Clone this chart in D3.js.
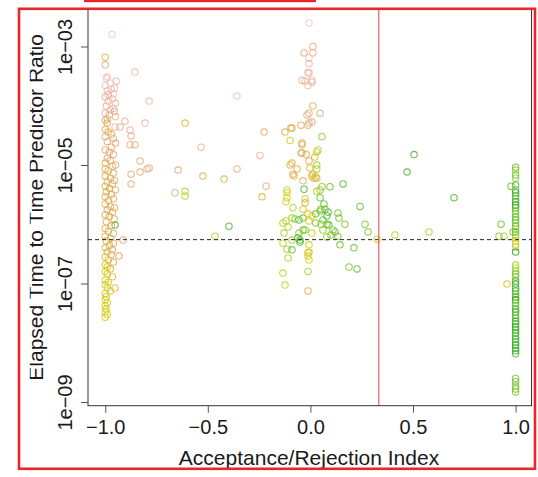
<!DOCTYPE html>
<html><head><meta charset="utf-8">
<script src="https://cdn.jsdelivr.net/npm/d3@7"></script>
<style>html,body{margin:0;padding:0;background:#fff}svg{display:block}text{font-family:"Liberation Sans",Arial,Helvetica,sans-serif;fill:#1a1a1a}</style>
</head><body><svg id="c" width="538" height="477"></svg>
<script>
// ---- data ----
const xTicks = [-1, -0.5, 0, 0.5, 1];
const xTickLabels = ["\u22121.0", "\u22120.5", "0.0", "0.5", "1.0"];
const yTicks = [1e-9, 1e-7, 1e-5, 1e-3];
const yTickLabels = ["1e\u221209", "1e\u221207", "1e\u221205", "1e\u221203"];
const xTitle = "Acceptance/Rejection Index";
const yTitle = "Elapsed Time to Time Predictor Ratio";
const refRatio = 5.5e-7;     // dashed horizontal line
const refIndex = 1 / 3;      // red vertical line
// [index, ratio, tone]
const rejectPoints = [
[-0.967,1.6e-3,0.0],[-1.0,6.6e-4,0.45],[-1.0,4.9e-4,0.3],[-0.855,3.7e-4,0.1],[-0.99,3.1e-4,0.05],
[-0.995,2.9e-4,0.05],[-0.947,2.6e-4,0.15],[-0.786,1.2e-4,0.1],[-1.0,2.2e-4,0.05],[-0.99,1.8e-4,0.1],
[-0.97,1.9e-4,0.1],[-0.96,1.6e-4,0.05],[-1.0,1.4e-4,0.2],[-0.985,1.2e-4,0.15],[-0.95,1.1e-4,0.1],
[-0.975,2.4e-4,0.05],[-0.955,2.0e-4,0.1],[-0.985,1.55e-4,0.15],[-0.965,1.3e-4,0.1],[-0.955,8.0e-5,0.2],[-0.99,6.0e-5,0.2],
[-0.995,9.9e-5,0.2],[-0.975,8.5e-5,0.15],[-0.96,9.0e-5,0.1],[-1.0,7.5e-5,0.25],[-0.98,7.0e-5,0.3],
[-0.95,6.5e-5,0.15],[-0.904,5.5e-5,0.2],[-0.806,5.1e-5,0.15],[-0.952,4.4e-5,0.2],[-0.928,4.4e-5,0.2],
[-0.879,3.9e-5,0.2],[-0.874,3.1e-5,0.3],[-1.0,5.7e-5,0.35],[-0.99,5.1e-5,0.45],[-1.0,4.0e-5,0.45],
[-0.985,3.6e-5,0.4],[-0.97,3.3e-5,0.3],[-1.0,3.0e-5,0.3],[-0.96,2.8e-5,0.25],[-0.99,2.5e-5,0.3],
[-0.879,2.2e-5,0.25],[-0.855,2.2e-5,0.3],[-0.95,2.35e-5,0.3],[-0.97,2.0e-5,0.35],[-1.0,1.8e-5,0.35],
[-0.98,1.66e-5,0.3],[-0.96,1.5e-5,0.3],[-0.83,1.17e-5,0.3],[-0.99,1.3e-5,0.35],[-0.975,1.2e-5,0.3],
[-1.0,1.08e-5,0.45],[-0.95,1.0e-5,0.35],[-0.965,9.5e-6,0.3],[-0.874,7.0e-6,0.3],[-0.83,7.6e-6,0.3],
[-0.796,8.6e-6,0.25],[-0.786,8.9e-6,0.25],[-0.874,4.8e-6,0.3],[-1.0,8.6e-6,0.45],[-0.985,8.0e-6,0.4],
[-0.96,7.3e-6,0.35],[-1.0,6.5e-6,0.5],[-0.975,6.0e-6,0.4],[-0.955,5.5e-6,0.35],[-0.99,5.2e-6,0.45],
[-0.965,4.8e-6,0.4],[-1.0,4.4e-6,0.5],[-0.98,4.0e-6,0.45],[-0.95,3.8e-6,0.35],[-0.995,3.5e-6,0.45],
[-0.97,3.2e-6,0.4],[-1.0,2.9e-6,0.45],[-0.96,2.7e-6,0.35],[-0.985,2.5e-6,0.4],[-1.0,2.2e-6,0.5],
[-0.975,2.0e-6,0.4],[-0.955,1.9e-6,0.35],[-0.99,1.75e-6,0.45],[-0.965,1.6e-6,0.4],[-1.0,1.45e-6,0.45],
[-0.98,1.35e-6,0.4],[-0.957,1.23e-6,0.35],[-0.995,1.1e-6,0.45],[-0.952,9.7e-7,0.9],[-0.97,9.5e-7,0.4],
[-1.0,8.5e-7,0.45],[-0.985,7.6e-7,0.4],[-0.96,7.0e-7,0.35],[-1.0,6.3e-7,0.5],[-0.975,5.8e-7,0.45],
[-0.913,5.4e-7,0.3],[-0.995,5.2e-7,0.45],[-0.96,4.8e-7,0.4],[-0.98,4.4e-7,0.4],[-1.0,4.0e-7,0.5],
[-0.965,3.7e-7,0.35],[-0.99,3.4e-7,0.45],[-0.933,2.9e-7,0.4],[-0.97,3.1e-7,0.4],[-1.0,2.8e-7,0.55],
[-0.985,2.5e-7,0.5],[-0.96,2.3e-7,0.4],[-1.0,2.1e-7,0.6],[-0.99,1.9e-7,0.58],[-0.975,1.75e-7,0.5],
[-1.0,1.6e-7,0.62],[-0.99,1.45e-7,0.6],[-0.965,1.3e-7,0.55],[-1.0,1.15e-7,0.62],[-0.985,1.05e-7,0.6],
[-0.952,8.4e-8,0.55],[-1.0,9.5e-8,0.62],[-0.99,8.5e-8,0.6],[-0.975,7.5e-8,0.55],[-1.0,6.8e-8,0.63],
[-0.995,6.0e-8,0.62],[-1.0,5.3e-8,0.63],[-0.99,4.7e-8,0.6],[-1.0,4.2e-8,0.62],[-0.995,3.7e-8,0.6],
[-1.0,3.3e-8,0.62],[-0.99,3.0e-8,0.6],[-1.0,2.7e-8,0.6]
];
const spreadPoints = [
[-0.358,1.46e-4,0.1],[-0.611,5.1e-5,0.55],[-0.533,2.0e-5,0.15],[-0.645,8.2e-6,0.35],[-0.524,6.5e-6,0.45],
[-0.421,5.8e-6,0.5],[-0.358,8.6e-6,0.25],[-0.246,1.45e-5,0.15],[-0.226,3.6e-5,0.35],[-0.216,4.4e-6,0.3],
[-0.236,2.9e-6,0.5],[-0.660,3.4e-6,0.35],[-0.611,3.6e-6,0.7],[-0.611,3.0e-6,0.7],[-0.397,9.3e-7,0.88],
[-0.465,6.3e-7,0.72],[0.325,5.6e-7,0.62],[0.412,6.6e-7,0.72],[0.578,7.4e-7,0.72],[0.505,1.5e-5,0.9],
[0.471,7.6e-6,0.9],[0.700,2.8e-6,0.9],[0.266,1.0e-6,0.82],[0.281,7.4e-7,0.82],[0.929,1.0e-6,0.85],
[0.978,4.4e-6,0.85],[0.919,6.3e-7,0.8],[0.943,6.3e-7,0.75],[0.988,7.4e-7,0.8],[0.958,9.8e-8,0.62]
];
const neutralPoints = [
[-0.007,2.5e-3,0.0],[0.012,1.0e-3,0.3],[-0.031,7.8e-4,0.35],[0.012,7.8e-4,0.25],[-0.007,6.4e-4,0.05],
[-0.007,5.1e-4,0.15],[-0.007,3.6e-4,0.15],[-0.012,3.6e-4,0.15],[-0.041,2.7e-4,0.2],[-0.026,2.6e-4,0.2],
[0.007,2.7e-4,0.15],[0.007,2.5e-4,0.2],[-0.012,2.2e-4,0.1],[0.012,9.9e-5,0.4],[-0.007,7.5e-5,0.3],
[-0.017,7.0e-5,0.25],[-0.012,4.7e-5,0.3],[0.007,5.3e-5,0.25],[-0.007,5.1e-5,0.25],[0.047,7.5e-5,0.35],
[-0.046,4.7e-5,0.4],[-0.090,4.2e-5,0.45],[-0.095,4.2e-5,0.45],[-0.124,3.6e-5,0.45],[0.056,3.0e-5,0.78],
[-0.099,2.6e-5,0.6],[-0.041,2.35e-5,0.45],[-0.041,2.2e-5,0.4],[-0.041,1.6e-5,0.4],[-0.021,1.5e-5,0.45],
[-0.046,1.6e-5,0.35],[0.037,1.8e-5,0.7],[0.031,1.66e-5,0.72],[0.021,1.36e-5,0.55],[-0.007,1.17e-5,0.45],
[-0.003,8.9e-6,0.55],[-0.090,1.08e-5,0.45],[-0.099,1.0e-5,0.5],[-0.065,8.6e-6,0.5],[-0.085,7.0e-6,0.5],
[-0.080,6.5e-6,0.45],[0.031,1.0e-5,0.78],[0.031,8.6e-6,0.72],[0.026,6.3e-6,0.65],[0.007,6.5e-6,0.5],
[0.017,6.0e-6,0.5],[0.012,7.0e-6,0.5],[0.031,6.0e-6,0.55],[-0.036,5.4e-6,0.4],[0.159,4.8e-6,0.88],
[0.056,4.3e-6,0.8],[0.095,4.3e-6,0.85],[0.047,3.8e-6,0.78],[0.031,3.6e-6,0.7],[-0.031,3.9e-6,0.9],
[-0.114,3.8e-6,0.6],[-0.114,3.4e-6,0.62],[-0.114,2.8e-6,0.62],[-0.119,2.4e-6,0.65],[-0.026,2.7e-6,0.55],
[-0.026,2.3e-6,0.5],[-0.036,1.8e-6,0.55],[0.047,2.8e-6,0.85],[0.066,2.2e-6,0.85],[0.071,1.8e-6,0.88],
[0.051,1.8e-6,0.82],[0.047,1.67e-6,0.8],[0.242,2.0e-6,0.85],[0.134,1.55e-6,0.82],[0.139,1.27e-6,0.82],
[0.168,1.0e-6,0.82],[-0.085,1.9e-6,0.72],[-0.090,1.27e-6,0.75],[-0.119,1.14e-6,0.7],[-0.036,1.27e-6,0.85],
[-0.056,1.18e-6,0.88],[-0.075,1.23e-6,0.8],[-0.012,1.5e-6,0.62],[-0.007,1.14e-6,0.6],[0.007,1.38e-6,0.6],
[0.026,1.5e-6,0.85],[0.026,1.05e-6,0.82],[0.086,1.6e-6,0.9],[0.080,1.38e-6,0.88],[0.090,9.7e-7,0.85],
[0.080,1.0e-6,0.88],[0.061,1.18e-6,0.85],[0.051,1.0e-6,0.78],[0.061,8.0e-7,0.78],[-0.134,1.05e-6,0.72],
[-0.109,9.0e-7,0.7],[-0.129,7.1e-7,0.72],[0.007,7.1e-7,0.6],[-0.026,8.0e-7,0.8],[-0.056,7.1e-7,0.78],
[-0.036,8.0e-7,0.85],[0.110,8.0e-7,0.82],[0.100,6.6e-7,0.82],[0.120,7.4e-7,0.85],[0.134,6.3e-7,0.82],
[0.080,6.1e-7,0.78],[-0.051,5.4e-7,0.9],[-0.061,5.9e-7,0.88],[-0.051,5.0e-7,0.9],[-0.090,5.4e-7,0.75],
[0.144,4.5e-7,0.85],[0.212,4.0e-7,0.85],[-0.114,3.8e-7,0.75],[-0.090,3.7e-7,0.85],[-0.109,2.7e-7,0.72],
[-0.007,4.5e-7,0.6],[-0.012,3.3e-7,0.62],[-0.012,2.9e-7,0.6],[-0.007,2.5e-7,0.62],[-0.007,3.4e-7,0.58],
[-0.134,1.5e-7,0.72],[-0.124,9.4e-8,0.65],[-0.012,1.6e-7,0.75],[-0.012,7.5e-8,0.45],[0.188,1.9e-7,0.8],
[0.227,1.76e-7,0.85],[-0.134,4.8e-7,0.65]
];
const acceptPoints = [
[1,9.2e-6,0.85],[1,8.2e-6,0.8],[1,6.8e-6,0.85],[1,6.0e-6,0.78],[1,4.6e-6,0.9],[1,3.8e-6,0.85],
[1,3.4e-6,0.95],[1,3.0e-6,0.9],[1,2.7e-6,0.85],[1,2.4e-6,0.95],[1,2.1e-6,1.0],[1,1.9e-6,0.9],
[1,1.67e-6,0.85],[1,1.5e-6,0.78],[1,1.32e-6,0.85],[1,1.18e-6,0.9],[1,1.05e-6,0.8],[1,9.3e-7,0.88],
[1,8.3e-7,0.75],[1,7.4e-7,0.9],[1,6.6e-7,0.82],[1,5.9e-7,0.7],[1,5.2e-7,0.6],[1,4.6e-7,0.65],
[1,4.1e-7,0.55],[1,3.4e-7,1.0],[1,2.05e-7,0.75],[1,1.83e-7,0.72],[1,1.63e-7,0.78],[1,1.45e-7,0.85],
[1,1.29e-7,0.8],[1,1.1e-7,0.9],[1,9.8e-8,0.95],[1,8.4e-8,0.9],[1,7.5e-8,0.95],[1,6.6e-8,0.85],
[1,5.9e-8,0.9],[1,5.3e-8,1.0],[1,4.7e-8,0.85],[1,4.2e-8,0.82],[1,3.7e-8,0.9],[1,3.3e-8,0.95],
[1,2.9e-8,0.88],[1,2.6e-8,0.85],[1,2.3e-8,0.95],[1,2.1e-8,0.9],[1,1.85e-8,1.0],[1,1.64e-8,0.92],
[1,1.46e-8,0.95],[1,1.3e-8,0.88],[1,1.16e-8,0.95],[1,1.03e-8,0.9],[1,9.2e-9,1.0],[1,8.1e-9,0.92],
[1,7.3e-9,0.95],[1,6.5e-9,0.9],[1,2.5e-9,0.82],[1,2.2e-9,0.85],[1,1.86e-9,0.8],[1,1.66e-9,0.85],
[1,1.48e-9,0.8]
];
const toneStops = [0, 0.2, 0.35, 0.5, 0.62, 0.75, 0.88, 1.0];
const toneColors = ["#f0c6c0", "#e8ac90", "#e2a868", "#dcb038", "#d4cc10", "#a2d020", "#4cb828", "#1c9e10"];

// ---- drawing ----
const svg = d3.select("#c");
const L = 88, R = 531.5, T = 9, B = 405.7;
const x = d3.scaleLinear().domain([-1.084, 1.0775]).range([L, R]);
const y = d3.scaleLog().domain([Math.pow(10, -9.062), Math.pow(10, -2.367)]).range([B, T]);
const tone = d3.scaleLinear().domain(toneStops).range(toneColors);

const defs = svg.append("defs");
defs.append("clipPath").attr("id", "plotclip").append("rect")
  .attr("x", L).attr("y", T).attr("width", R - L).attr("height", B - T);
defs.append("clipPath").attr("id", "labclip").append("rect")
  .attr("x", 29.8).attr("y", 0).attr("width", 538).attr("height", 477);

const pts = svg.append("g").attr("clip-path", "url(#plotclip)");
const all = [].concat(rejectPoints, spreadPoints, neutralPoints, acceptPoints);
pts.selectAll("circle").data(all).join("circle")
  .attr("cx", d => x(d[0])).attr("cy", d => y(d[1])).attr("r", 3.2)
  .attr("fill", "none").attr("stroke", d => tone(d[2]))
  .attr("stroke-width", 1.1).attr("stroke-opacity", 0.8);

// reference lines
svg.append("line").attr("x1", L).attr("x2", R).attr("y1", y(refRatio)).attr("y2", y(refRatio))
  .attr("stroke", "#222").attr("stroke-width", 1).attr("stroke-dasharray", "4,3");
svg.append("line").attr("x1", x(refIndex)).attr("x2", x(refIndex)).attr("y1", T).attr("y2", B)
  .attr("stroke", "#f03c3c").attr("stroke-width", 1);

// box
svg.append("rect").attr("x", L).attr("y", T).attr("width", R - L).attr("height", B - T)
  .attr("fill", "none").attr("stroke", "#333").attr("stroke-width", 1);

// axes
const xa = svg.append("g").attr("transform", `translate(0,${B})`)
  .call(d3.axisBottom(x).tickValues(xTicks).tickSize(7).tickFormat((d, i) => xTickLabels[i]));
xa.select(".domain").remove();
xa.selectAll("line").attr("stroke", "#555");
xa.selectAll("text").attr("y", 28.3).attr("dy", 0).style("font-size", "20px").attr("fill", "#1a1a1a");

const ya = svg.append("g").attr("transform", `translate(${L},0)`)
  .call(d3.axisLeft(y).tickValues(yTicks).tickSize(7).tickFormat((d, i) => yTickLabels[i]));
ya.select(".domain").remove();
ya.selectAll("line").attr("stroke", "#555");
ya.selectAll("text").attr("transform", "rotate(-90)").attr("x", 0).attr("y", -16.3).attr("dy", 0)
  .attr("text-anchor", "middle").style("font-size", "20px").attr("fill", "#1a1a1a");

// titles
svg.append("text").attr("x", 309).attr("y", 465).attr("text-anchor", "middle")
  .style("font-size", "21px").text(xTitle);
svg.append("g").attr("clip-path", "url(#labclip)").append("text")
  .attr("transform", `translate(42.5,${(T + B) / 2}) rotate(-90)`).attr("text-anchor", "middle")
  .style("font-size", "21px").text(yTitle);

// red frame
svg.append("rect").attr("x", 19).attr("y", 8.8).attr("width", 516).attr("height", 460)
  .attr("fill", "none").attr("stroke", "#e8262a").attr("stroke-width", 2.6);
svg.append("rect").attr("x", 84).attr("y", 0).attr("width", 232).attr("height", 2.2).attr("fill", "#e8262a");
</script></body></html>
